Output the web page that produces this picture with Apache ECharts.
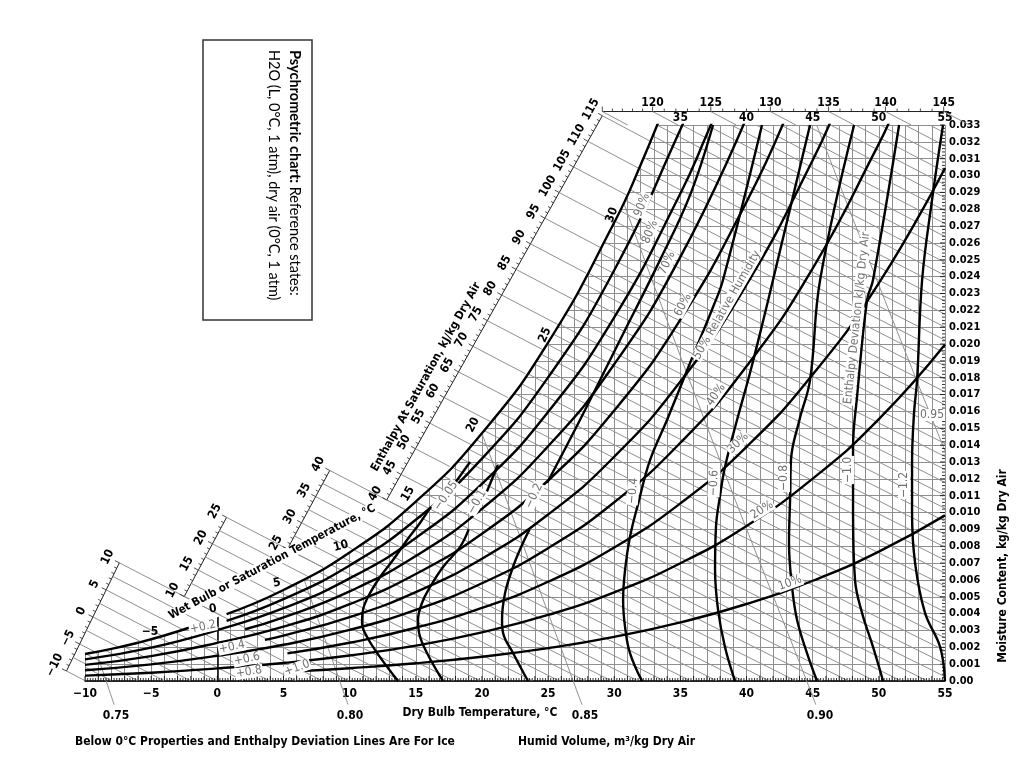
<!DOCTYPE html>
<html>
<head>
<meta charset="utf-8">
<title>Psychrometric chart</title>
<script src="https://cdn.jsdelivr.net/npm/echarts@6/dist/echarts.min.js"></script>
<style>
  html, body { margin: 0; padding: 0; background: #fff; }
  #chart { width: 1024px; height: 760px; }
</style>
</head>
<body>
<div id="chart"></div>
<script>
// ---- axes ----
const dryBulbMin = -10, dryBulbMax = 55;   // °C
const moistMax = 0.033;                    // kg/kg dry air
const topTempLabels = [35, 40, 45, 50, 55];

// ---- saturation curve ----
const sat100Low = [[-10, 0.00160], [-8, 0.00191], [-6, 0.00227], [-4, 0.00270], [-1.8, 0.00325]];
const satGap = [[-1, 0.00347], [0, 0.00378]];
const sat100High = [[0.7, 0.00397], [5, 0.00540], [10, 0.00763], [15, 0.01065], [20, 0.01470],
  [25, 0.02009], [30, 0.02721], [32, 0.03064], [34, 0.03450]];

// ---- relative humidity curves ----
const rh90 = [[0.7, 0.00357], [5, 0.00486], [10, 0.00686], [15, 0.00957], [20, 0.01320], [25, 0.01802], [30, 0.02438], [35, 0.03273], [36, 0.03469]];
const rh80 = [[-10, 0.00128], [-5, 0.00198], [0, 0.00302], [5, 0.00432], [10, 0.00609], [15, 0.00849], [20, 0.01170], [25, 0.01597], [30, 0.02158], [35, 0.02893], [37, 0.03245], [38, 0.03436]];
const rh70 = [[2.1, 0.00307], [5, 0.00377], [10, 0.00532], [15, 0.00742], [20, 0.01022], [25, 0.01393], [30, 0.01880], [35, 0.02517], [40, 0.03344]];
const rh60 = [[-10, 0.00096], [-5, 0.00148], [0, 0.00226], [5, 0.00323], [10, 0.00456], [15, 0.00635], [20, 0.00874], [25, 0.01190], [30, 0.01605], [35, 0.02145], [40, 0.02844], [43, 0.03352]];
const rh50 = [[3.6, 0.00244], [5, 0.00269], [10, 0.00379], [15, 0.00528], [20, 0.00726], [25, 0.00988], [30, 0.01331], [35, 0.01777], [40, 0.02352], [45, 0.03091], [47, 0.03442]];
const rh40 = [[-10, 0.00064], [-5, 0.00099], [0, 0.00150], [5, 0.00215], [10, 0.00303], [15, 0.00422], [20, 0.00580], [25, 0.00788], [30, 0.01061], [35, 0.01414], [40, 0.01868], [45, 0.02449], [50, 0.03188], [51, 0.03357]];
const rh30 = [[5.3, 0.00164], [10, 0.00227], [15, 0.00316], [20, 0.00434], [25, 0.00589], [30, 0.00792], [35, 0.01054], [40, 0.01390], [45, 0.01819], [50, 0.02361], [55, 0.03045]];
const rh20 = [[-10, 0.00032], [-5, 0.00049], [0, 0.00075], [5, 0.00107], [10, 0.00151], [15, 0.00210], [20, 0.00289], [25, 0.00392], [30, 0.00526], [35, 0.00699], [40, 0.00920], [45, 0.01201], [50, 0.01554], [55, 0.01997]];
const rh10 = [[5.8, 0.00057], [10, 0.00076], [15, 0.00105], [20, 0.00144], [25, 0.00195], [30, 0.00262], [35, 0.00348], [40, 0.00457], [45, 0.00595], [50, 0.00768], [55, 0.00983]];

// ---- enthalpy deviation curves (bold) ----
const devA1 = [[13.66, 0], [12.30, 0.00142], [11.32, 0.00261], [10.94, 0.00344], [11.01, 0.00421], [11.39, 0.00499], [12.30, 0.00617], [13.28, 0.00718], [14.34, 0.00837], [15.32, 0.00938], [16.10, 0.01030]];
const devA2 = [[17.97, 0.01175], [19.10, 0.01300]];
const devB1 = [[17.06, 0], [15.85, 0.00166], [15.25, 0.00285], [15.17, 0.00362], [15.47, 0.00463], [16.08, 0.00558], [17.06, 0.00677], [18.34, 0.00795], [19.00, 0.00900]];
const devB2 = [[20.30, 0.01110], [21.20, 0.01282]];
const devC1 = [[23.48, 0], [22.35, 0.00166], [21.60, 0.00285], [21.52, 0.00362], [21.75, 0.00522], [22.35, 0.00677], [23.03, 0.00807], [23.60, 0.00900]];
const devC2 = [[24.92, 0.01175], [27.41, 0.01549], [30.44, 0.02024], [33.46, 0.02498], [35.73, 0.02884], [37.47, 0.03300]];
const devD = [[32.10, 0], [31.19, 0.00166], [30.82, 0.00320], [30.67, 0.00481], [30.82, 0.00659], [31.19, 0.00855], [31.80, 0.01050], [32.71, 0.01312], [33.99, 0.01549], [35.73, 0.01887], [37.47, 0.02220], [38.22, 0.02380], [41.17, 0.03300]];
const devE = [[39.13, 0], [38.37, 0.00202], [37.85, 0.00421], [37.62, 0.00659], [37.69, 0.00914], [38.00, 0.01100], [38.37, 0.01270], [39.28, 0.01549], [40.26, 0.01828], [41.40, 0.02184], [42.00, 0.02380], [44.80, 0.03300]];
const devF = [[45.33, 0], [44.57, 0.00166], [43.82, 0.00362], [43.44, 0.00558], [43.21, 0.00819], [43.30, 0.01100], [43.36, 0.01312], [44.00, 0.01550], [44.80, 0.01786], [45.56, 0.02380], [48.13, 0.03300]];
const devG = [[50.32, 0], [49.56, 0.00202], [48.73, 0.00404], [48.20, 0.00599], [48.05, 0.00997], [48.05, 0.01389], [48.35, 0.01685], [49.11, 0.02261], [49.56, 0.02380], [51.53, 0.03300]];
const devH = [[55.00, 0], [54.63, 0.00202], [53.49, 0.00404], [52.74, 0.00700], [52.51, 0.00997], [52.51, 0.01294], [52.66, 0.01591], [52.89, 0.01786], [53.27, 0.02380], [54.02, 0.02855], [54.85, 0.03300]];

// ---- humid volume lines, m3/kg dry air ----
const vol075 = [[-7.80, -0.0014], [-8.40, 0], [-9.15, 0.00173]];
const vol080 = [[9.88, -0.0014], [9.25, 0], [6.55, 0.00603]];
const vol085 = [[27.56, -0.0014], [26.90, 0], [20.00, 0.01470]];
const vol090 = [[45.23, -0.0014], [44.55, 0], [37.55, 0.01400], [30.70, 0.02840]];
const vol095 = [[55.00, 0.01365], [50.00, 0.02350], [45.30, 0.03300]];
const volumeLabels = ['0.75', '0.80', '0.85', '0.90'];

// ---- enthalpy at saturation scales, kJ/kg dry air ----
const scaleSegs = [
  { h0: -10, h1: 10, t0: -11.4, t1: -7.4, guideStep: 2.5 },
  { h0: 10, h1: 25, t0: -2.5, t1: 0.7, guideStep: 2.5 },
  { h0: 25, h1: 40, t0: 5.3, t1: 8.5, guideStep: 2.5 },
  { h0: 40, h1: 115, t0: 12.8, t1: 29.1, guideStep: 5 }
];
const topScaleValues = [115, 120, 125, 130, 135, 140, 145];
const topScaleTemps = [29.1, 32.9, 37.3, 41.8, 46.2, 50.5, 54.9];
const topScaleW = 0.0338;

// enthalpy relation used to build the oblique grid
const hOf = (t, w) => 1.006 * t + w * (2501 + 1.86 * t);
const hW = (h, t) => (h - 1.006 * t) / (2501 + 1.86 * t);

const satAll = sat100Low.concat(satGap, sat100High);
function satW(t) {
  for (let i = 1; i < satAll.length; i++) {
    if (t <= satAll[i][0]) {
      const a = satAll[i - 1], b = satAll[i];
      return a[1] + (b[1] - a[1]) * (t - a[0]) / (b[0] - a[0]);
    }
  }
  return satAll[satAll.length - 1][1];
}
function satEndT(h) {
  if (hOf(-10, satW(-10)) >= h) return -10;
  let lo = -10, hi = 34;
  for (let i = 0; i < 40; i++) {
    const m = (lo + hi) / 2;
    if (hOf(m, satW(m)) < h) lo = m; else hi = m;
  }
  return lo;
}

const FONT_N = '"Liberation Sans Narrow","DejaVu Sans Condensed","Arial Narrow",sans-serif';
const GRID_GREY = '#8f8f8f';
const LABEL_GREY = '#707070';

// oblique enthalpy grid lines (every 2 kJ/kg), hidden above saturation by the mask
const diagLevels = [];
for (let h = -10; h <= 146; h += 2) diagLevels.push([h, 0]);

function renderDiag(params, api) {
  const h = api.value(0);
  const wTop = 0.0336;
  const tA = Math.max(dryBulbMin - 0.5, (h - 2501 * wTop) / (1.006 + 1.86 * wTop));
  const tB = Math.min(dryBulbMax + 0.5, h / 1.006);
  if (tB <= tA) return null;
  const pts = [];
  for (let i = 0; i <= 6; i++) {
    const t = tA + (tB - tA) * i / 6;
    pts.push(api.coord([t, hW(h, t)]));
  }
  return { type: 'polyline', shape: { points: pts }, style: { stroke: GRID_GREY, lineWidth: 1, fill: null } };
}

function guideLine(api, t0, w0, tEnd) {
  const h = hOf(t0, w0);
  const a = api.coord([t0, w0]), b = api.coord([tEnd, hW(h, tEnd)]);
  return { type: 'line', shape: { x1: a[0], y1: a[1], x2: b[0], y2: b[1] }, style: { stroke: GRID_GREY, lineWidth: 1 } };
}

function renderScale(params, api) {
  const s = scaleSegs[api.value(0)];
  const w0 = hW(s.h0, s.t0), w1 = hW(s.h1, s.t1);
  const a = api.coord([s.t0, w0]), b = api.coord([s.t1, w1]);
  const dx = b[0] - a[0], dy = b[1] - a[1], len = Math.hypot(dx, dy);
  const ux = dx / len, uy = dy / len, nx = uy, ny = -ux;
  const rot = Math.atan2(-uy, ux);
  const children = [{ type: 'line', shape: { x1: a[0], y1: a[1], x2: b[0], y2: b[1] }, style: { stroke: '#222', lineWidth: 1 } }];
  // guide lines from the scale down to the saturation curve
  for (let h = s.h0; h <= s.h1 + 1e-9; h += s.guideStep) {
    const f = (h - s.h0) / (s.h1 - s.h0);
    const t = s.t0 + (s.t1 - s.t0) * f, w = w0 + (w1 - w0) * f;
    children.push(guideLine(api, t, w, satEndT(hOf(t, w))));
  }
  for (let h = s.h0; h <= s.h1; h++) {
    const f = (h - s.h0) / (s.h1 - s.h0);
    const px = a[0] + dx * f, py = a[1] + dy * f;
    const major = h % 5 === 0;
    const L = major ? 5 : 3;
    children.push({ type: 'line', shape: { x1: px, y1: py, x2: px + nx * L, y2: py + ny * L }, style: { stroke: '#222', lineWidth: 0.8 } });
    if (major) {
      children.push({
        type: 'text', x: px + nx * 13, y: py + ny * 13, rotation: rot,
        style: { text: String(h).replace('-', '\u2212'), font: 'bold 12px ' + FONT_N, fill: '#000',
          align: 'center', verticalAlign: 'middle', textAlign: 'center', textVerticalAlign: 'middle' }
      });
    }
  }
  return { type: 'group', children };
}

function renderTopScale(params, api) {
  const a = api.coord([topScaleTemps[0], topScaleW]);
  const b = api.coord([dryBulbMax + 0.3, topScaleW]);
  const children = [{ type: 'line', shape: { x1: a[0], y1: a[1], x2: b[0], y2: b[1] }, style: { stroke: '#222', lineWidth: 1 } }];
  for (let i = 0; i < topScaleTemps.length; i++) {
    const p = api.coord([topScaleTemps[i], topScaleW]);
    if (i > 0) {
      children.push({ type: 'text', x: p[0], y: p[1] - 9,
        style: { text: String(topScaleValues[i]), font: 'bold 12px ' + FONT_N, fill: '#000',
          align: 'center', verticalAlign: 'middle', textAlign: 'center', textVerticalAlign: 'middle' } });
    }
    const h = hOf(topScaleTemps[i], topScaleW);
    const tEnd = (h - 2501 * moistMax) / (1.006 + 1.86 * moistMax);
    children.push(guideLine(api, topScaleTemps[i], topScaleW, tEnd));
    if (i < topScaleTemps.length - 1) {
      for (let k = 1; k < 5; k++) {
        const t = topScaleTemps[i] + (topScaleTemps[i + 1] - topScaleTemps[i]) * k / 5;
        const q = api.coord([t, topScaleW]);
        children.push({ type: 'line', shape: { x1: q[0], y1: q[1], x2: q[0], y2: q[1] - 3 }, style: { stroke: '#222', lineWidth: 0.8 } });
      }
    }
    children.push({ type: 'line', shape: { x1: p[0], y1: p[1], x2: p[0], y2: p[1] - 5 }, style: { stroke: '#222', lineWidth: 0.8 } });
  }
  return { type: 'group', children };
}

// fine ruler ticks along the bottom and right axes
function renderRulers(params, api) {
  const children = [];
  for (let i = 0; i <= (dryBulbMax - dryBulbMin) * 5; i++) {
    const p = api.coord([dryBulbMin + i / 5, 0]);
    children.push({ type: 'line', shape: { x1: p[0], y1: p[1], x2: p[0], y2: p[1] - (i % 5 === 0 ? 5 : 3) }, style: { stroke: '#000', lineWidth: 0.8 } });
  }
  for (let i = 0; i <= 165; i++) {
    const p = api.coord([dryBulbMax, i * 0.0002]);
    children.push({ type: 'line', shape: { x1: p[0], y1: p[1], x2: p[0] - (i % 5 === 0 ? 5 : 3), y2: p[1] }, style: { stroke: '#000', lineWidth: 0.8 } });
  }
  return { type: 'group', children };
}

function bold(data, smooth) {
  return { type: 'line', data, smooth: smooth, symbol: 'none', silent: true, z: 5,
    lineStyle: { color: '#000', width: 2.4 } };
}
function thin(data) {
  return { type: 'line', data, smooth: true, symbol: 'none', silent: true, z: 4, clip: false,
    lineStyle: { color: GRID_GREY, width: 1 } };
}

function txt(text, x, y, rot, o) {
  o = o || {};
  const style = {
    text, fill: o.color || '#000',
    font: (o.bold ? 'bold ' : '') + (o.size || 12) + 'px ' + (o.family || FONT_N),
    align: o.align || 'center', verticalAlign: 'middle',
    textAlign: o.align || 'center', textVerticalAlign: 'middle'
  };
  if (o.bg) { style.backgroundColor = o.bg; style.padding = [0, 1]; }
  if (o.rich) style.rich = o.rich;
  return { type: 'text', x, y, rotation: (rot || 0) * Math.PI / 180, z: 100, style };
}
const grey = { color: LABEL_GREY, bg: '#fff' };
const BOX_FONT = 'Lato, "Noto Sans", sans-serif';

const graphics = [
  // reference-state box
  { type: 'rect', shape: { x: 203, y: 40, width: 109, height: 280 }, style: { fill: '#fff', stroke: '#333', lineWidth: 1.5 }, z: 90 },
  txt('{b|Psychrometric chart:} Reference states:', 295, 50, -90,
    { align: 'left', family: BOX_FONT, size: 14.5, rich: { b: { font: 'bold 14.5px ' + BOX_FONT, fill: '#000' } } }),
  txt('H2O (L, 0\u00b0C, 1 atm), dry air (0\u00b0C, 1 atm)', 274, 50, -90,
    { align: 'left', family: BOX_FONT, size: 14.5 }),

  // axis titles and notes
  txt('Dry Bulb Temperature, \u00b0C', 480, 713, 0, { bold: true }),
  txt('Below 0\u00b0C Properties and Enthalpy Deviation Lines Are For Ice', 75, 742, 0, { bold: true, align: 'left' }),
  txt('Humid Volume, m\u00b3/kg Dry Air', 518, 742, 0, { bold: true, align: 'left' }),
  txt('Moisture Content, kg/kg Dry Air', 1003, 566, 90, { bold: true }),
  txt(volumeLabels[0], 116, 716, 0, { bold: true }),
  txt(volumeLabels[1], 350, 716, 0, { bold: true }),
  txt(volumeLabels[2], 585, 716, 0, { bold: true }),
  txt(volumeLabels[3], 820, 716, 0, { bold: true }),
  txt('0.95', 932, 415, 0, grey),

  // scale titles
  txt('Wet Bulb or Saturation Temperature, \u00b0C', 272, 562, 28, { bold: true, size: 11.5, bg: '#fff' }),
  txt('Enthalpy At Saturation, kJ/kg Dry Air', 426, 377, 61, { bold: true, size: 11.5 }),

  // wet bulb temperatures along saturation
  txt('\u22125', 150, 632, 0, { bold: true }),
  txt('0', 213, 609, 10, { bold: true }),
  txt('5', 277, 583, 10, { bold: true }),
  txt('10', 341, 546, 15, { bold: true }),
  txt('15', 408, 494, 60, { bold: true }),
  txt('20', 473, 425, 62, { bold: true }),
  txt('25', 545, 335, 65, { bold: true }),
  txt('30', 612, 215, 70, { bold: true }),

  // relative humidity
  txt('90%', 642, 205, 68, grey),
  txt('80%', 650, 232, 68, grey),
  txt('70%', 667, 263, 65, grey),
  txt('60%', 683, 305, 62, grey),
  txt('50% Relative Humidity', 727, 305, 60, grey),
  txt('40%', 716, 395, 55, grey),
  txt('30%', 738, 443, 45, grey),
  txt('20%', 762, 510, 32, grey),
  txt('10%', 790, 583, 20, grey),

  // enthalpy deviation
  txt('\u22120.05', 446, 496, 55, grey),
  txt('\u22120.1', 477, 502, 60, grey),
  txt('\u22120.2', 534, 496, 65, grey),
  txt('\u22120.4', 633, 491, 85, grey),
  txt('\u22120.6', 714, 483, 88, grey),
  txt('\u22120.8', 784, 478, 90, grey),
  txt('\u22121.0', 848, 470, 90, grey),
  txt('\u22121.2', 904, 485, 90, grey),
  txt('Enthalpy Deviation kJ/kg Dry Air', 857, 318, 84, grey),
  txt('+0.2', 203, 627, 12, grey),
  txt('+0.4', 232, 647, 12, grey),
  txt('+0.6', 247, 659, 12, grey),
  txt('+0.8', 249, 672, 10, grey),
  txt('+1.0', 297, 668, 20, grey)
];

const chart = echarts.init(document.getElementById('chart'));
chart.setOption({
  animation: false,
  backgroundColor: '#fff',
  grid: { left: 85, right: 79, top: 125, bottom: 79 },
  xAxis: [{
    type: 'value', min: dryBulbMin, max: dryBulbMax, interval: 5, position: 'bottom',
    axisLine: { lineStyle: { color: '#000', width: 1.5 } },
    axisTick: { show: false },
    axisLabel: { color: '#000', fontWeight: 'bold', fontSize: 12, fontFamily: FONT_N, margin: 7,
      formatter: v => String(v).replace('-', '\u2212') },
    minorTick: { show: false, splitNumber: 5 },
    splitLine: { show: true, lineStyle: { color: GRID_GREY, width: 1 } },
    minorSplitLine: { show: true, lineStyle: { color: GRID_GREY, width: 1 } }
  }, {
    type: 'value', min: dryBulbMin, max: dryBulbMax, interval: 5, position: 'top',
    axisLine: { show: false }, axisTick: { show: false }, splitLine: { show: false },
    axisLabel: { color: '#000', fontWeight: 'bold', fontSize: 12, fontFamily: FONT_N, margin: 1,
      formatter: v => (topTempLabels.indexOf(v) >= 0 ? String(v) : '') }
  }],
  yAxis: {
    type: 'value', min: 0, max: moistMax, interval: 0.001, position: 'right',
    axisLine: { show: true, lineStyle: { color: '#000', width: 1.5 } },
    axisTick: { show: false },
    axisLabel: { color: '#000', fontWeight: 'bold', fontSize: 11, fontFamily: FONT_N, margin: 4,
      showMaxLabel: true, formatter: v => (v === 0 ? '0.00' : v.toFixed(3)) },
    splitLine: { show: true, lineStyle: { color: GRID_GREY, width: 1 } }
  },
  graphic: graphics,
  series: [
    { type: 'custom', data: diagLevels, renderItem: renderDiag, clip: true, silent: true, z: 1 },
    { type: 'line', data: satAll, smooth: true, symbol: 'none', silent: true, z: 2,
      lineStyle: { width: 0, opacity: 0 }, areaStyle: { color: '#fff', opacity: 1, origin: 'end' } },
    { type: 'custom', data: scaleSegs.map((s, i) => [i, 0]), renderItem: renderScale, clip: false, silent: true, z: 3 },
    { type: 'custom', data: [[0, 0]], renderItem: renderTopScale, clip: false, silent: true, z: 3 },
    { type: 'custom', data: [[0, 0]], renderItem: renderRulers, clip: false, silent: true, z: 6 },
    thin(vol075), thin(vol080), thin(vol085), thin(vol090), thin(vol095),
    bold(sat100Low, true), bold(sat100High, true),
    bold(rh90, true), bold(rh80, true), bold(rh70, true), bold(rh60, true), bold(rh50, true),
    bold(rh40, true), bold(rh30, true), bold(rh20, true), bold(rh10, true),
    bold(devA1, 0.4), bold(devA2, 0.4), bold(devB1, 0.4), bold(devB2, 0.4),
    bold(devC1, 0.4), bold(devC2, 0.4), bold(devD, 0.4), bold(devE, 0.4),
    bold(devF, 0.4), bold(devG, 0.4), bold(devH, 0.4)
  ]
});
</script>
</body>
</html>
